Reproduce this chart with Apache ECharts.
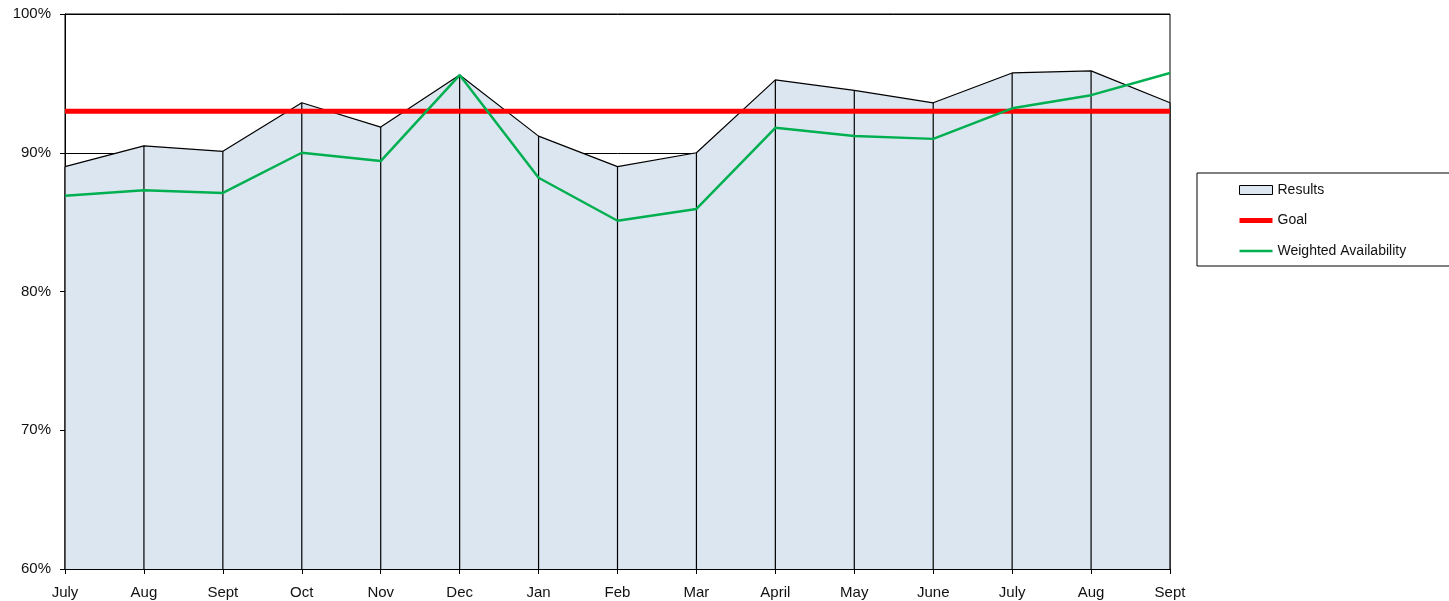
<!DOCTYPE html>
<html><head><meta charset="utf-8">
<script src="https://cdn.jsdelivr.net/npm/echarts@6/dist/echarts.min.js"></script>
<style>html,body{margin:0;padding:0;background:#fff}#c{width:1449px;height:601px}</style>
</head><body><div id="c"></div>
<script>
const categories = ['July','Aug','Sept','Oct','Nov','Dec','Jan','Feb','Mar','April','May','June','July','Aug','Sept'];
const results = [89.0, 90.5, 90.1, 93.6, 91.85, 95.6, 91.2, 89.0, 90.0, 95.25, 94.5, 93.6, 95.75, 95.9, 93.6];
const goal = [93, 93, 93, 93, 93, 93, 93, 93, 93, 93, 93, 93, 93, 93, 93];
const weighted = [86.9, 87.3, 87.1, 90.0, 89.4, 95.6, 88.2, 85.1, 85.95, 91.8, 91.2, 91.0, 93.2, 94.15, 95.75];
const yTicks = {min: 60, max: 100, interval: 10};

const font = 'Liberation Sans, Arial, sans-serif';
const chart = echarts.init(document.getElementById('c'), null, {renderer: 'canvas'});
chart.setOption({
  animation: false,
  backgroundColor: '#ffffff',
  textStyle: {fontFamily: font},
  grid: {left: 65, top: 14, right: 279, bottom: 32, show: true, borderColor: '#000', borderWidth: 1, backgroundColor: 'transparent'},
  legend: {
    orient: 'vertical', left: 1197, top: 173,
    backgroundColor: '#fff', borderColor: '#000', borderWidth: 1,
    padding: [10, 80, 8, 42],
    itemWidth: 33, itemHeight: 14, itemGap: 16.5,
    textStyle: {fontFamily: font, fontSize: 14, color: '#111'},
    data: [
      {name: 'Results', icon: 'path://M0,0 h33 v9 h-33 z', itemStyle: {color: '#dce6f1', borderColor: '#000', borderWidth: 1}},
      {name: 'Goal', icon: 'path://M0,0 h33 v5 h-33 z', itemStyle: {color: '#ff0000'}},
      {name: 'Weighted Availability', icon: 'path://M0,0 h33 v2.5 h-33 z', itemStyle: {color: '#00b050'}}
    ]
  },
  xAxis: {
    type: 'category', data: categories, boundaryGap: false,
    axisLine: {lineStyle: {color: '#000', width: 1}},
    axisTick: {show: true, alignWithLabel: true, length: 5, lineStyle: {color: '#000'}},
    axisLabel: {color: '#111', fontSize: 15, margin: 16, fontFamily: font, interval: 0},
    splitLine: {show: false}
  },
  yAxis: {
    type: 'value', min: yTicks.min, max: yTicks.max, interval: yTicks.interval,
    axisLine: {show: true, lineStyle: {color: '#000', width: 1}},
    axisTick: {show: true, length: 5, lineStyle: {color: '#000'}},
    axisLabel: {color: '#111', fontSize: 15, margin: 14, fontFamily: font, formatter: '{value}%'},
    splitLine: {show: true, lineStyle: {color: '#000', width: 1}}
  },
  series: [
    {
      name: 'Results', type: 'line', data: results, symbol: 'none', z: 2,
      lineStyle: {color: '#000', width: 1.2},
      itemStyle: {color: '#dce6f1', borderColor: '#000'},
      areaStyle: {color: '#dce6f1', opacity: 1}
    },
    {
      name: 'drops', type: 'custom', z: 3, silent: true,
      data: results.map((v, i) => [i, v]),
      renderItem: function (params, api) {
        const top = api.coord([api.value(0), api.value(1)]);
        const bot = api.coord([api.value(0), yTicks.min]);
        return {type: 'line', shape: {x1: top[0], y1: top[1], x2: bot[0], y2: bot[1]}, style: {stroke: '#000', lineWidth: 1.2}};
      }
    },
    {
      name: 'Goal', type: 'line', data: goal, symbol: 'none', z: 4,
      lineStyle: {color: '#ff0000', width: 5}, itemStyle: {color: '#ff0000'}
    },
    {
      name: 'Weighted Availability', type: 'line', data: weighted, symbol: 'none', z: 5,
      lineStyle: {color: '#00b050', width: 2.5}, itemStyle: {color: '#00b050'}
    }
  ]
});
</script>
</body></html>
